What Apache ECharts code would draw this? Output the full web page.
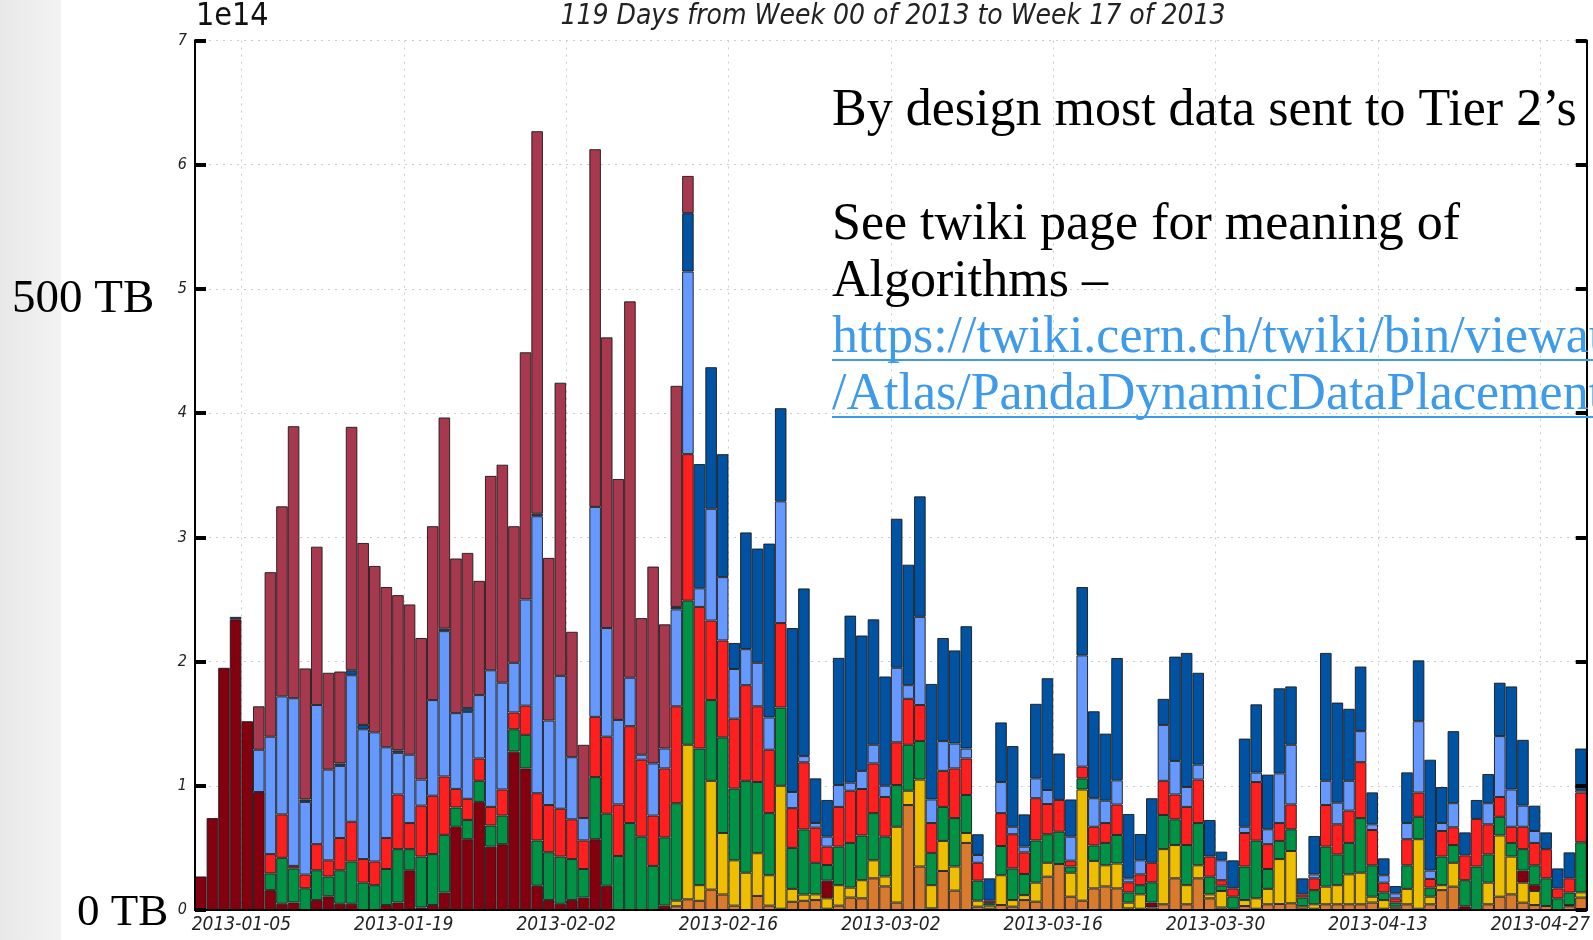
<!DOCTYPE html>
<html><head><meta charset="utf-8">
<script src="https://cdn.jsdelivr.net/npm/echarts@6/dist/echarts.min.js"></script>
<style>html,body{margin:0;padding:0;background:#fff;overflow:hidden}#c{width:1593px;height:940px}</style>
</head><body><div id="c"></div>
<script>
// ---- data (units of 1e14 bytes) ----
const categories = [];
for (let k = 0, d = new Date(Date.UTC(2013, 0, 1)); k < 120; k++, d.setUTCDate(d.getUTCDate() + 1)) {
  categories.push(d.toISOString().slice(0, 10));
}
const tickLabels = ['2013-01-05','2013-01-19','2013-02-02','2013-02-16','2013-03-02','2013-03-16','2013-03-30','2013-04-13','2013-04-27'];
const yTickLabels = ['0','1','2','3','4','5','6','7'];

const orange = [
  0,0,0,0,0,0,0,0,0,0, 0,0,0,0,0,0,0,0,0,0, 0,0,0,0,0,0,0,0,0,0, 0,0,0,0,0,0,0,0,0,0,
  0,.03,.086,.074,.164,.125,.035,0,.113,.035,
  .01,.066,.074,.08,.01,.035,.10,.094,.255,.19,
  .06,.845,.35,.013,.314,.156,.54,.027,.01,.04,
  .027,.08,.067,.268,.37,.107,.075,.174,.19,.174,
  .013,.01,.02,.046,.255,.046,.255,.094,.02,0,
  .032,.01,.046,.048,.054,.01,.01,.046,.046,.046,
  .046,.06,.01,.01,.046,.01,.046,.16,.188,0,
  0,.046,.107,.126,.059,.04,.032,0,.03,.10];
const yellow = [
  0,0,0,0,0,0,0,0,0,0, 0,0,0,0,0,0,0,0,0,0, 0,0,0,0,0,0,0,0,0,0, 0,0,0,0,0,0,0,0,0,0,
  0,.045,1.244,.126,.876,.495,.365,.30,.344,.245,
  .99,.104,.05,.046,.084,.165,.08,.146,.145,.08,
  .61,.115,.70,.187,.242,.194,.08,.048,.025,.24,
  .053,.04,.153,.112,0,.193,.895,.221,.17,.20,
  .046,.116,0,.444,.268,.154,.105,.032,.133,0,
  .048,.084,.124,.362,.421,.02,.036,.142,.154,.241,
  .254,.047,.07,.017,.124,.56,.061,.04,.192,0,
  0,.174,.493,.304,.161,.113,0,0,.01,.042];
const darkRed = [
  .27,.74,1.95,2.34,1.52,.95,.16,.05,.06,0,
  .08,.11,.05,.05,0,0,.04,.06,.32,.02,
  .04,.14,.67,.57,.87,.51,.53,1.275,1.14,.195,
  .08,.05,.08,.10,.57,.195,0,0,0,0,
  .035,0,0,0,0,0,0,0,0,0,
  0,0,0,0,.142,0,0,0,0,0,
  0,0,0,0,0,0,0,0,0,0, 0,0,0,0,0,0,0,0,0,0,
  0,0,.04,0,0,0,0,0,0,.01,
  0,0,0,0,0,0,0,0,0,0,
  0,0,0,0,0,0,0,0,0,.03,
  0,0,0,0,.097,.047,0,0,0,0];
const green = [
  0,0,0,0,0,0,.135,.37,.275,.175,
  .24,.16,.27,.34,.22,.2,.29,.43,.17,.41,
  .41,.465,.155,.155,.17,.17,.23,.18,.27,.365,
  .385,.38,.33,.23,.50,.58,.435,.70,.59,.355,
  .55,.785,1.16,1.10,.65,.77,.577,.74,.573,.50,
  .63,.33,.525,.254,.126,.31,.36,.36,.38,.32,
  .336,.37,.31,.26,.274,.39,.306,.161,.02,.235,
  .255,.17,.34,.23,.26,.05,.09,.125,.18,.23,
  .083,.074,.163,.275,.207,.323,.34,.142,.043,.097,
  .27,.464,.16,.146,.175,.07,.114,.322,.248,.253,
  .44,.253,.062,.033,.19,.18,.073,.23,.143,.21,
  .35,.228,.15,.11,.173,.16,.223,.094,.10,.403];
const red = [
  0,0,0,0,0,0,.155,.35,.02,.11,
  .21,.13,.26,.32,.19,.19,.25,.44,.21,.41,
  .47,.47,.15,.17,.18,.15,.21,.135,.235,.38,
  .38,.385,.32,.23,.485,.62,.415,.78,.62,.405,
  .555,.78,1.18,1.14,.64,.78,.563,.77,.61,.51,
  .68,.32,.54,.283,.148,.32,.42,.374,.40,.32,
  .344,.37,.29,.24,.29,.40,.294,.144,.02,.265,
  .275,.174,.34,.243,.256,.047,.094,.15,.16,.245,
  .081,.087,.157,.275,.20,.307,.35,.162,.044,.067,
  .27,.472,.20,.144,.20,.026,.095,.335,.242,.26,
  .45,.284,.078,.034,.21,.195,.07,.206,.143,.20,
  .383,.242,.16,.13,.18,.18,.235,.08,.115,.40];
const lightBlue = [
  0,0,0,0,0,.34,.945,.95,1.35,.585,
  1.12,.73,.58,1.18,1.045,1.04,.73,.335,.55,.21,
  .77,1.17,.61,.70,.51,1.10,.86,.40,.855,2.23,
  .68,1.07,.50,.18,1.69,.875,.68,.39,.04,.42,
  .16,.78,1.47,.15,.90,.51,.40,.29,.35,.26,
  .98,.13,.05,.037,.08,.176,.065,.146,.15,.09,
  .60,.11,.71,.19,.24,.20,.08,.063,0,.25,
  .06,.046,.16,.113,0,.193,.896,.23,.18,.195,
  .032,.113,0,.45,.27,.16,.12,0,.16,0,
  .05,.076,.12,.40,.48,0,.032,.195,.174,.24,
  .25,.046,.06,.04,.13,.575,.067,.064,.194,0,
  0,.17,.49,.30,.17,.096,0,0,0,.02];
const darkBlue = [
  0,0,0,.02,0,0,0,0,0,.02,
  0,0,.02,.04,.035,0,0,.02,0,0,
  0,.02,0,.03,0,0,0,0,0,.02,
  0,0,0,0,0,0,0,0,0,0,
  0,.02,.47,1.0,1.14,.99,.21,.94,.92,1.40,
  .75,1.32,1.35,.36,.296,1.024,1.345,1.09,1.01,.88,
  1.20,.97,.97,.93,.83,.75,.985,.167,.18,.48,
  .65,.26,.60,.90,.374,.30,.55,.70,.54,.985,
  .518,.212,.52,.21,.84,1.08,.74,.295,.07,.226,
  .71,.55,.44,.685,.47,.129,.309,1.03,.806,.58,
  .52,.257,.136,.059,.408,.49,.893,.29,.58,.185,
  .153,.235,.43,.83,.53,.204,.135,.161,.209,.335];
const maroon = [
  0,0,0,0,0,.35,1.325,1.53,2.19,1.055,
  1.275,.78,.74,1.96,1.465,1.34,1.29,1.25,1.21,1.14,
  1.40,1.70,1.245,1.25,.92,1.565,1.755,1.10,1.99,3.08,
  1.31,2.36,1.01,.59,2.88,2.34,1.94,3.03,1.10,1.585,
  1.0,1.78,.30,0,0,0,0,0,0,0,
  0,0,0,0,0,0,0,0,0,0, 0,0,0,0,0,0,0,0,0,0, 0,0,0,0,0,0,0,0,0,0,
  0,0,0,0,0,0,0,0,0,0, 0,0,0,0,0,0,0,0,0,0, 0,0,0,0,0,0,0,0,0,0,
  0,0,0,0,0,0,0,0,0,0];

const seriesNames = ['Orange','Yellow','Dark red','Green','Red','Light blue','Dark blue','Maroon'];
const seriesData = [orange, yellow, darkRed, green, red, lightBlue, darkBlue, maroon];
const seriesColors = ['#d97a2c','#eebf00','#85000f','#009245','#ff1f1f','#6699ff','#0052a3','#a8384d'];

// ---- chart ----
const chart = echarts.init(document.getElementById('c'), null, {renderer: 'canvas'});
const isTick = (i) => tickLabels.indexOf(categories[i]) >= 0;
const axisFont = '"DejaVu Sans Condensed", "DejaVu Sans", sans-serif';
const serif = '"Liberation Serif", "DejaVu Serif", serif';
const linkColor = '#3d9be9';
const tickOnly = (pos) => ({
  type: 'category', data: categories, position: pos, boundaryGap: true, z: 6,
  axisLine: {lineStyle: {color: '#000', width: 2}},
  axisTick: {inside: true, length: 12, interval: isTick, lineStyle: {color: '#000', width: 4}},
  axisLabel: {show: false}, splitLine: {show: false}
});

const option = {
  animation: false,
  backgroundColor: '#ffffff',
  grid: {left: 195, right: 0, top: 40.5, bottom: 30, containLabel: false},
  xAxis: [{
    type: 'category', data: categories, position: 'bottom', boundaryGap: true,
    axisLine: {lineStyle: {color: '#000', width: 2}},
    axisTick: {show: false},
    axisLabel: {interval: isTick, fontFamily: axisFont, fontStyle: 'italic', fontSize: 19, color: '#222',
      margin: 6, padding: [0, 11.6, 0, 0]},
    splitLine: {show: true, interval: isTick, lineStyle: {type: [2, 5], color: '#cccccc', width: 1}}
  }, tickOnly('top'), tickOnly('bottom')],
  yAxis: [{
    type: 'value', min: 0, max: 7, interval: 1, position: 'left',
    axisLine: {show: true, lineStyle: {color: '#000', width: 2}},
    axisTick: {show: false},
    axisLabel: {fontFamily: axisFont, fontStyle: 'italic', fontSize: 16, color: '#222', margin: 8,
      formatter: (v) => yTickLabels[Math.round(v)]},
    splitLine: {show: true, lineStyle: {type: [2, 5], color: '#cccccc', width: 1}}
  }, {
    type: 'value', min: 0, max: 7, interval: 1, position: 'left', z: 6,
    axisLine: {show: true, lineStyle: {color: '#000', width: 2}},
    axisTick: {show: true, inside: true, length: 11, lineStyle: {color: '#000', width: 4}},
    axisLabel: {show: false}, splitLine: {show: false}
  }, {
    type: 'value', min: 0, max: 7, interval: 1, position: 'right', z: 6,
    axisLine: {show: true, lineStyle: {color: '#000', width: 2}},
    axisTick: {show: true, inside: true, length: 11, lineStyle: {color: '#000', width: 4}},
    axisLabel: {show: false}, splitLine: {show: false}
  }],
  series: seriesData.map((arr, k) => ({
    name: seriesNames[k], type: 'bar', stack: 'total', xAxisIndex: 0, yAxisIndex: 0,
    barCategoryGap: '0%', barGap: '0%',
    data: arr.map(v => v > 0 ? v : '-'),
    itemStyle: {color: seriesColors[k], borderColor: 'rgba(25,25,25,0.9)', borderWidth: 1}
  })),
  graphic: [
    {type: 'rect', left: 0, top: 0, z: 0, shape: {width: 61, height: 940},
      style: {fill: new echarts.graphic.LinearGradient(0, 0, 1, 0, [{offset: 0, color: '#e8e8e8'}, {offset: 1, color: '#f3f3f3'}])}},
    {type: 'text', x: 196, y: 17, z: 10, style: {text: '1e14', fontFamily: axisFont, fontSize: 32, fill: '#111', verticalAlign: 'middle'}},
    {type: 'text', x: 893, y: 17, z: 10, style: {text: '119 Days from Week 00 of 2013 to Week 17 of 2013', fontFamily: axisFont, fontStyle: 'italic', fontSize: 28, fill: '#222', align: 'center', verticalAlign: 'middle'}},
    {type: 'text', x: 12, y: 300, z: 10, style: {text: '500 TB', fontFamily: serif, fontSize: 47, fill: '#000', verticalAlign: 'middle'}},
    {type: 'text', x: 77, y: 913, z: 10, style: {text: '0 TB', fontFamily: serif, fontSize: 45, fill: '#000', verticalAlign: 'middle'}},
    {type: 'text', x: 832, y: 111, z: 10, style: {text: 'By design most data sent to Tier 2\u2019s', fontFamily: serif, fontSize: 52, fill: '#000', verticalAlign: 'middle'}},
    {type: 'text', x: 832, y: 225, z: 10, style: {text: 'See twiki page for meaning of', fontFamily: serif, fontSize: 52, fill: '#000', verticalAlign: 'middle'}},
    {type: 'text', x: 832, y: 282, z: 10, style: {text: 'Algorithms \u2013', fontFamily: serif, fontSize: 52, fill: '#000', verticalAlign: 'middle'}},
    {type: 'text', x: 832, y: 338, z: 10, style: {text: 'https://twiki.cern.ch/twiki/bin/viewauth', fontFamily: serif, fontSize: 52, fill: linkColor, verticalAlign: 'middle'}},
    {type: 'text', x: 832, y: 395, z: 10, style: {text: '/Atlas/PandaDynamicDataPlacement', fontFamily: serif, fontSize: 52, fill: linkColor, verticalAlign: 'middle'}},
    {type: 'line', z: 10, shape: {x1: 832, y1: 360, x2: 1600, y2: 360}, style: {stroke: linkColor, lineWidth: 2}},
    {type: 'line', z: 10, shape: {x1: 832, y1: 417, x2: 1600, y2: 417}, style: {stroke: linkColor, lineWidth: 2}}
  ]
};
chart.setOption(option);
</script>
</body></html>
